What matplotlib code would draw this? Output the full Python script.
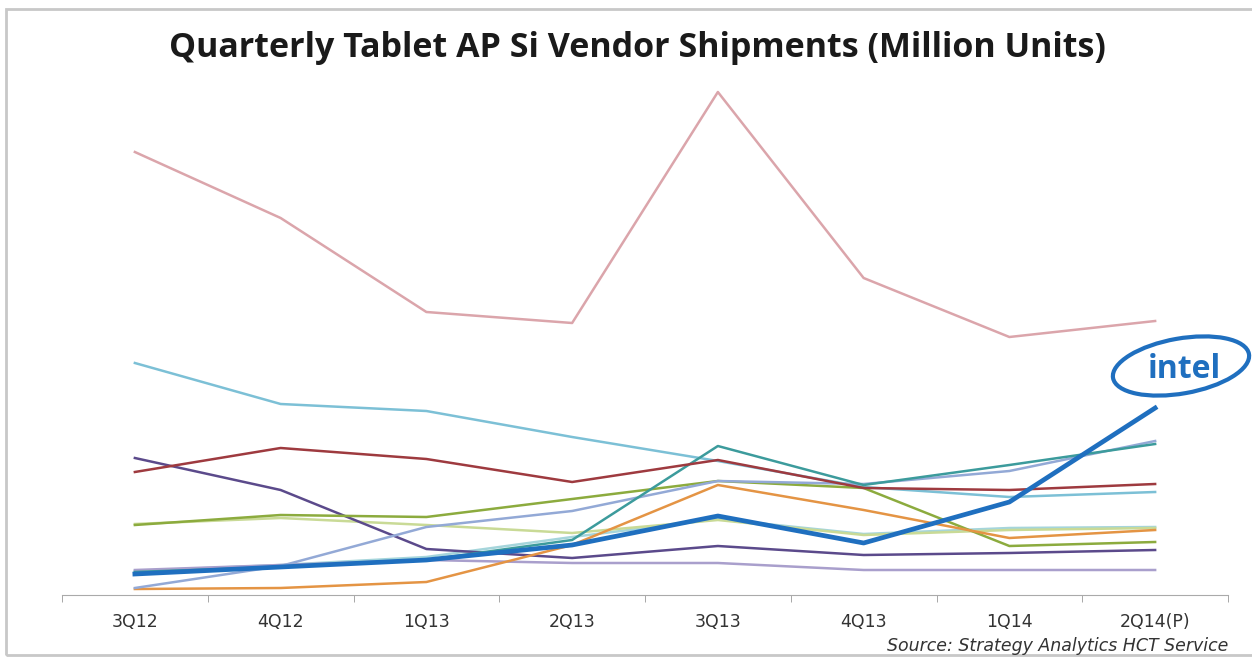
import matplotlib.pyplot as plt
from matplotlib.patches import Ellipse, Rectangle

quarters = ['3Q12', '4Q12', '1Q13', '2Q13', '3Q13', '4Q13', '1Q14', '2Q14(P)']

# values (no y scale shown, so units are estimated)
pink = [22.15, 18.85, 14.15, 13.6, 25.15, 15.85, 12.9, 13.7]
light_blue = [11.6, 9.55, 9.2, 7.9, 6.7, 5.4, 4.9, 5.15]
dark_red = [6.15, 7.35, 6.8, 5.65, 6.75, 5.35, 5.25, 5.55]
dark_purple = [6.85, 5.25, 2.3, 1.85, 2.45, 2.0, 2.1, 2.25]
green = [3.5, 4.0, 3.9, 4.8, 5.7, 5.35, 2.45, 2.65]
light_green = [3.55, 3.85, 3.5, 3.1, 3.75, 3.0, 3.25, 3.35]
periwinkle = [0.35, 1.45, 3.4, 4.2, 5.7, 5.55, 6.2, 7.7]
teal = [1.15, 1.4, 1.75, 2.75, 7.45, 5.5, 6.5, 7.55]
orange = [0.3, 0.35, 0.65, 2.5, 5.5, 4.25, 2.85, 3.25]
lavender = [1.25, 1.5, 1.75, 1.6, 1.6, 1.25, 1.25, 1.25]
pale_cyan = [1.2, 1.5, 1.9, 2.9, 3.8, 3.05, 3.35, 3.4]
intel = [1.05, 1.4, 1.75, 2.5, 3.95, 2.6, 4.65, 9.35]

series = [
    (pink, '#dba5ab'),
    (light_blue, '#7cc0d6'),
    (pale_cyan, '#a5d5db'),
    (light_green, '#c9da96'),
    (lavender, '#a99fcc'),
    (dark_purple, '#5b4a8b'),
    (green, '#8cab3e'),
    (orange, '#e49444'),
    (periwinkle, '#93a9d6'),
    (teal, '#3c9b9c'),
    (dark_red, '#9e3a3f'),
]

fig = plt.figure(figsize=(12.52, 6.63), dpi=100)
ax = fig.add_axes([62 / 1252, 68 / 663, (1228 - 62) / 1252, 515 / 663])

x = list(range(len(quarters)))
for vals, col in series:
    ax.plot(x, vals, color=col, lw=1.8)
ax.plot(x, intel, color='#1f6fbf', lw=3.4)

ax.set_xlim(-0.5, len(quarters) - 0.5)
ax.set_ylim(0, 25.75)
ax.set_xticks(x)
ax.set_xticklabels(quarters, fontsize=12.5, color='#333333')
ax.tick_params(axis='x', which='major', length=0, pad=13)
ax.set_xticks([i - 0.5 for i in range(len(quarters) + 1)], minor=True)
ax.tick_params(axis='x', which='minor', length=5, color='#999999', direction='out')
ax.set_yticks([])
for s in ['top', 'right', 'left']:
    ax.spines[s].set_visible(False)
ax.spines['bottom'].set_color('#aaaaaa')

fig.text(0.509, 0.928, 'Quarterly Tablet AP Si Vendor Shipments (Million Units)',
         ha='center', va='center', fontsize=24.5, fontweight='bold', color='#1a1a1a',
         family='Open Sans')
fig.text(887 / 1252, 1 - 646 / 663, 'Source: Strategy Analytics HCT Service',
         ha='left', va='center', fontsize=12.5, style='italic', color='#333333')

# intel logo drawn as text + swoosh ellipse
fig.patches.append(Ellipse((11.81, 2.97), 1.38, 0.55, angle=10, fill=False,
                           ec='#1f6fbf', lw=3, transform=fig.dpi_scale_trans))
fig.text(1184 / 1252, 1 - 369 / 663, 'intel', ha='center', va='center',
         fontsize=23, fontweight='bold', color='#1f6fbf', family='Open Sans')

# grey frame around the picture
fig.patches.append(Rectangle((6 / 1252, 8 / 663), 1.2, 1 - 17 / 663, fill=False,
                             ec='#c8c8c8', lw=2, transform=fig.transFigure))

fig.savefig('out.png', dpi=100, facecolor='white')
